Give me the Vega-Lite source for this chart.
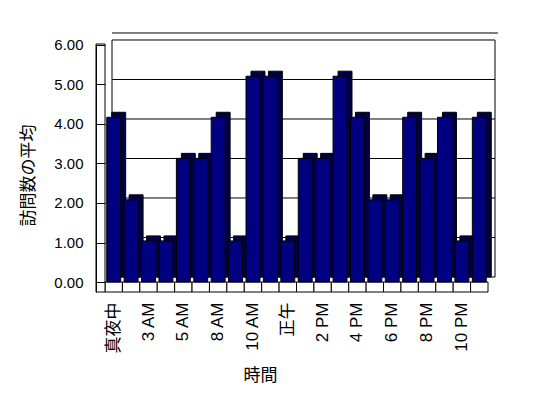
{
  "$schema": "https://vega.github.io/schema/vega-lite/v6.json",
  "autosize": "none",
  "width": 383,
  "height": 248,
  "padding": {"left": 112, "top": 44, "right": 53, "bottom": 106},
  "background": "white",
  "config": {"view": {"stroke": null}, "font": "Liberation Sans"},
  "datasets": {
    "visits": [
      {"hour": "真夜中", "avg": 4.17},
      {"hour": "1 AM", "avg": 2.08},
      {"hour": "3 AM", "avg": 1.04},
      {"hour": "4 AM", "avg": 1.04},
      {"hour": "5 AM", "avg": 3.13},
      {"hour": "6 AM", "avg": 3.13},
      {"hour": "8 AM", "avg": 4.17},
      {"hour": "9 AM", "avg": 1.04},
      {"hour": "10 AM", "avg": 5.21},
      {"hour": "11 AM", "avg": 5.21},
      {"hour": "正午", "avg": 1.04},
      {"hour": "1 PM", "avg": 3.13},
      {"hour": "2 PM", "avg": 3.13},
      {"hour": "3 PM", "avg": 5.21},
      {"hour": "4 PM", "avg": 4.17},
      {"hour": "5 PM", "avg": 2.08},
      {"hour": "6 PM", "avg": 2.08},
      {"hour": "7 PM", "avg": 4.17},
      {"hour": "8 PM", "avg": 3.13},
      {"hour": "9 PM", "avg": 4.17},
      {"hour": "10 PM", "avg": 1.04},
      {"hour": "11 PM", "avg": 4.17}
    ],
    "grid": [{"g": 1}, {"g": 2}, {"g": 3}, {"g": 4}, {"g": 5}]
  },
  "layer": [
    {
      "data": {"values": [{}]},
      "mark": {"type": "rect", "fill": "white", "stroke": "black", "strokeWidth": 1, "yOffset": -5, "y2Offset": -5},
      "encoding": {
        "y": {
          "datum": 6, "type": "quantitative",
          "scale": {"domain": [-0.253, 6.025], "nice": false, "zero": false},
          "axis": {
            "values": [0, 1, 2, 3, 4, 5, 6], "format": ".2f", "grid": false, "offset": 16, "zindex": 2,
            "labelFont": "Liberation Sans", "labelFontSize": 15, "labelColor": "black", "labelPadding": 22,
            "ticks": true, "tickSize": -9, "tickColor": "black", "domain": true, "domainColor": "black",
            "title": "訪問数の平均", "titleFont": "Noto Sans CJK JP", "titleFontSize": 17, "titleFontWeight": "normal", "titleColor": "black",
            "titleX": -68, "titleY": 131, "titleAlign": "center", "titleBaseline": "middle", "titleAngle": 270
          }
        },
        "y2": {"datum": 0}
      }
    },
    {
      "data": {"values": [{}]},
      "mark": {"type": "rule", "color": "black", "strokeWidth": 1, "yOffset": -12, "xOffset": 3},
      "encoding": {
        "y": {"datum": 6, "type": "quantitative", "scale": {"domain": [-0.253, 6.025], "nice": false, "zero": false}}
      }
    },
    {
      "data": {"name": "grid"},
      "mark": {"type": "rule", "color": "black", "strokeWidth": 1, "yOffset": -5},
      "encoding": {
        "y": {"field": "g", "type": "quantitative", "scale": {"domain": [-0.253, 6.025], "nice": false, "zero": false}}
      }
    },
    {
      "data": {"name": "visits"},
      "mark": {"type": "bar", "fill": "white", "stroke": "black", "strokeWidth": 1, "width": {"band": 1}, "xOffset": -7},
      "encoding": {
        "x": {
          "field": "hour", "type": "nominal", "sort": null,
          "scale": {"paddingInner": 0, "paddingOuter": 0},
          "axis": {
            "values": ["真夜中", "3 AM", "5 AM", "8 AM", "10 AM", "正午", "2 PM", "4 PM", "6 PM", "8 PM", "10 PM"],
            "labelAngle": 270, "labelAlign": "right", "labelBaseline": "middle",
            "labelFont": "Liberation Sans, Noto Sans CJK JP", "labelFontSize": 17, "labelColor": "black",
            "labelOffset": -7, "labelPadding": 10, "ticks": false, "domain": false, "grid": false,
            "title": "時間", "titleFont": "Noto Sans CJK JP", "titleFontSize": 17, "titleFontWeight": "normal", "titleColor": "black",
            "titleX": 148, "titleY": 83, "titleAlign": "center", "titleBaseline": "middle"
          }
        },
        "y": {"datum": 0, "type": "quantitative", "scale": {"domain": [-0.253, 6.025], "nice": false, "zero": false}},
        "y2": {"datum": -0.253}
      }
    },
    {
      "data": {"values": [{}]},
      "mark": {"type": "bar", "fill": "white", "stroke": "black", "strokeWidth": 1, "width": 9, "xOffset": -20.2},
      "encoding": {
        "x": {"datum": "真夜中", "type": "nominal", "scale": {"paddingInner": 0, "paddingOuter": 0}},
        "y": {"datum": 6.025, "type": "quantitative", "scale": {"domain": [-0.253, 6.025], "nice": false, "zero": false}},
        "y2": {"datum": -0.253}
      }
    },
    {
      "data": {"name": "visits"},
      "mark": {"type": "bar", "fill": "#000046", "stroke": "black", "strokeWidth": 1, "width": {"band": 0.8}, "xOffset": -2, "yOffset": -5, "y2Offset": -5},
      "encoding": {
        "x": {"field": "hour", "type": "nominal", "sort": null, "scale": {"paddingInner": 0, "paddingOuter": 0}},
        "y": {"field": "avg", "type": "quantitative", "scale": {"domain": [-0.253, 6.025], "nice": false, "zero": false}},
        "y2": {"datum": 0}
      }
    },
    {
      "data": {"name": "visits"},
      "mark": {"type": "bar", "fill": "#000080", "stroke": "black", "strokeWidth": 1, "width": {"band": 0.8}, "xOffset": -7},
      "encoding": {
        "x": {"field": "hour", "type": "nominal", "sort": null, "scale": {"paddingInner": 0, "paddingOuter": 0}},
        "y": {"field": "avg", "type": "quantitative", "scale": {"domain": [-0.253, 6.025], "nice": false, "zero": false}},
        "y2": {"datum": 0}
      }
    }
  ]
}
